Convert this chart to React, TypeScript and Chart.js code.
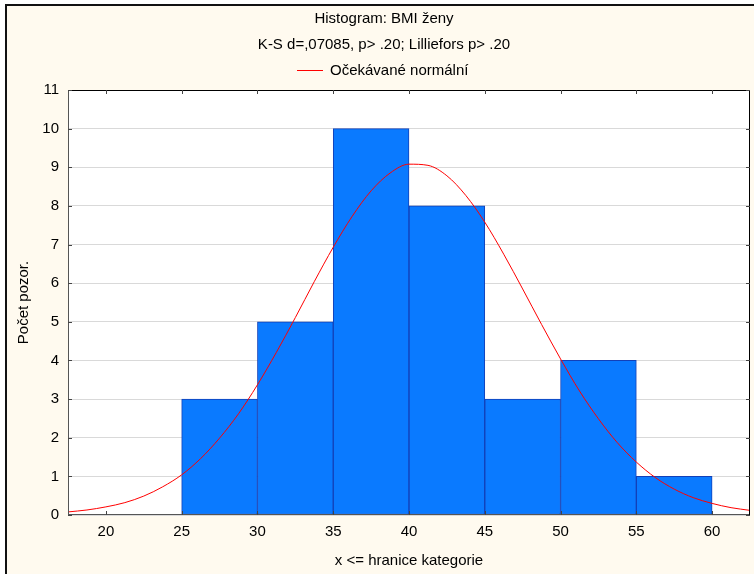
import React, { useEffect, useRef } from 'react';
import { Chart, registerables } from 'chart.js';

Chart.register(...registerables);

const titleLine1 = 'Histogram: BMI ženy';
const titleLine2 = 'K-S d=,07085, p> .20; Lilliefors p> .20';
const legendLabel = 'Očekávané normální';
const xAxisTitle = 'x <= hranice kategorie';
const yAxisTitle = 'Počet pozor.';

const binCenters = [27.5, 32.5, 37.5, 42.5, 47.5, 52.5, 57.5];
const binCounts = [3, 5, 10, 8, 3, 4, 1];

const curveX = [17.5, 18.75, 20, 21.25, 22.5, 23.75, 25, 26.25, 27.5, 28.75, 30, 31.25, 32.5, 33.75, 35, 36.25, 37.5, 38.75, 40, 41.25, 42.5, 43.75, 45, 46.25, 47.5, 48.75, 50, 51.25, 52.5, 53.75, 55, 56.25, 57.5, 58.75, 60, 61.25, 62.5];
const curveY = [0.08, 0.13, 0.21, 0.32, 0.49, 0.73, 1.04, 1.46, 1.99, 2.62, 3.37, 4.21, 5.11, 6.04, 6.93, 7.73, 8.39, 8.85, 9.08, 9.05, 8.78, 8.27, 7.58, 6.75, 5.85, 4.93, 4.04, 3.21, 2.49, 1.87, 1.37, 0.97, 0.67, 0.45, 0.30, 0.19, 0.12];

const xTicks = [20, 25, 30, 35, 40, 45, 50, 55, 60];
const yTicks = [0, 1, 2, 3, 4, 5, 6, 7, 8, 9, 10, 11];

const FONT = '"Liberation Sans", Arial, sans-serif';
const CREAM = '#FFFAEF';

const framePlugin = {
  id: 'framePlugin',
  beforeDraw(chart: any) {
    const { ctx, width, height, chartArea } = chart;
    ctx.save();
    ctx.fillStyle = '#FFFFFF';
    ctx.fillRect(0, 0, width, height);
    ctx.fillStyle = CREAM;
    ctx.fillRect(5, 4, width - 5, height - 4);
    ctx.fillStyle = '#111111';
    ctx.fillRect(5, 4, 2, height - 4);
    ctx.fillRect(5, 4, width - 5, 2);
    ctx.fillStyle = '#FFFFFF';
    ctx.fillRect(chartArea.left, chartArea.top, chartArea.right - chartArea.left, chartArea.bottom - chartArea.top);

    // header texts
    ctx.fillStyle = '#000000';
    ctx.font = '15px ' + FONT;
    ctx.textAlign = 'center';
    ctx.textBaseline = 'middle';
    ctx.fillText(titleLine1, 384, 19);
    ctx.fillText(titleLine2, 384, 45);
    ctx.textAlign = 'left';
    ctx.fillText(legendLabel, 330, 71);
    ctx.strokeStyle = '#FF0000';
    ctx.lineWidth = 1;
    ctx.beginPath();
    ctx.moveTo(297, 70.5);
    ctx.lineTo(323, 70.5);
    ctx.stroke();
    ctx.restore();
  },
  afterDraw(chart: any) {
    const { ctx, chartArea, scales } = chart;
    const { left, right, top, bottom } = chartArea;
    ctx.save();
    ctx.lineWidth = 1;
    // left & bottom axis lines
    ctx.strokeStyle = '#555555';
    ctx.beginPath();
    ctx.moveTo(left + 0.5, top);
    ctx.lineTo(left + 0.5, bottom);
    ctx.moveTo(left, bottom - 0.5);
    ctx.lineTo(right, bottom - 0.5);
    ctx.stroke();
    // top & right frame
    ctx.strokeStyle = '#000000';
    ctx.beginPath();
    ctx.moveTo(left, top + 0.5);
    ctx.lineTo(right, top + 0.5);
    ctx.moveTo(right - 0.5, top);
    ctx.lineTo(right - 0.5, bottom);
    ctx.stroke();
    // inward tick marks
    ctx.strokeStyle = '#444444';
    ctx.beginPath();
    for (const v of xTicks) {
      const px = Math.round(scales.x.getPixelForValue(v)) + 0.5;
      ctx.moveTo(px, bottom);
      ctx.lineTo(px, bottom - 4);
      ctx.moveTo(px, top);
      ctx.lineTo(px, top + 4);
    }
    for (const v of yTicks) {
      const py = Math.round(scales.y.getPixelForValue(v)) + 0.5;
      ctx.moveTo(left, py);
      ctx.lineTo(left + 4, py);
      ctx.moveTo(right, py);
      ctx.lineTo(right - 4, py);
    }
    ctx.stroke();
    ctx.restore();
  },
};

export default function App() {
  const canvasRef = useRef<HTMLCanvasElement | null>(null);

  useEffect(() => {
    if (!canvasRef.current) return;
    const chart = new Chart(canvasRef.current, {
      type: 'bar',
      data: {
        datasets: [
          {
            type: 'line',
            label: legendLabel,
            data: curveX.map((x, i) => ({ x, y: curveY[i] })),
            borderColor: '#FF0000',
            borderWidth: 1,
            pointRadius: 0,
            cubicInterpolationMode: 'monotone',
            fill: false,
            order: 0,
          } as any,
          {
            type: 'bar',
            label: 'Počet',
            data: binCenters.map((x, i) => ({ x, y: binCounts[i] })),
            backgroundColor: '#0A7AFF',
            borderColor: '#1240B8',
            borderWidth: 1,
            borderSkipped: false,
            barPercentage: 1,
            categoryPercentage: 1,
            order: 1,
          } as any,
        ],
      },
      options: {
        responsive: false,
        animation: false,
        devicePixelRatio: 1,
        layout: { padding: { left: 0, right: 4, top: 90, bottom: 0 } },
        plugins: {
          legend: { display: false },
          title: { display: false },
          tooltip: { enabled: false },
        },
        scales: {
          x: {
            type: 'linear',
            min: 17.5,
            max: 62.5,
            offset: false,
            afterBuildTicks: (s: any) => {
              s.ticks = xTicks.map((v) => ({ value: v }));
            },
            afterFit: (s: any) => {
              s.height = 59;
            },
            grid: { display: false, drawTicks: false },
            border: { display: false },
            ticks: { color: '#000', font: { family: FONT, size: 15 }, padding: 8, maxRotation: 0, autoSkip: false },
            title: {
              display: true,
              text: xAxisTitle,
              color: '#000',
              font: { family: FONT, size: 15 },
              padding: { top: 0, bottom: 4 },
            },
          },
          y: {
            type: 'linear',
            min: 0,
            max: 11,
            afterBuildTicks: (s: any) => {
              s.ticks = yTicks.map((v) => ({ value: v }));
            },
            afterFit: (s: any) => {
              s.width = 68;
            },
            grid: { display: true, color: '#D9D9D9', drawTicks: false },
            border: { display: false },
            ticks: { color: '#000', font: { family: FONT, size: 15 }, padding: 9, autoSkip: false },
            title: {
              display: true,
              text: yAxisTitle,
              color: '#000',
              font: { family: FONT, size: 15 },
              padding: { top: 15, bottom: 0 },
            },
          },
        },
      },
      plugins: [framePlugin],
    });
    return () => chart.destroy();
  }, []);

  return (
    <div style={{ position: 'absolute', left: 0, top: 0, width: 754, height: 574 }}>
      <canvas ref={canvasRef} width={754} height={574} style={{ display: 'block', width: 754, height: 574 }} />
    </div>
  );
}
